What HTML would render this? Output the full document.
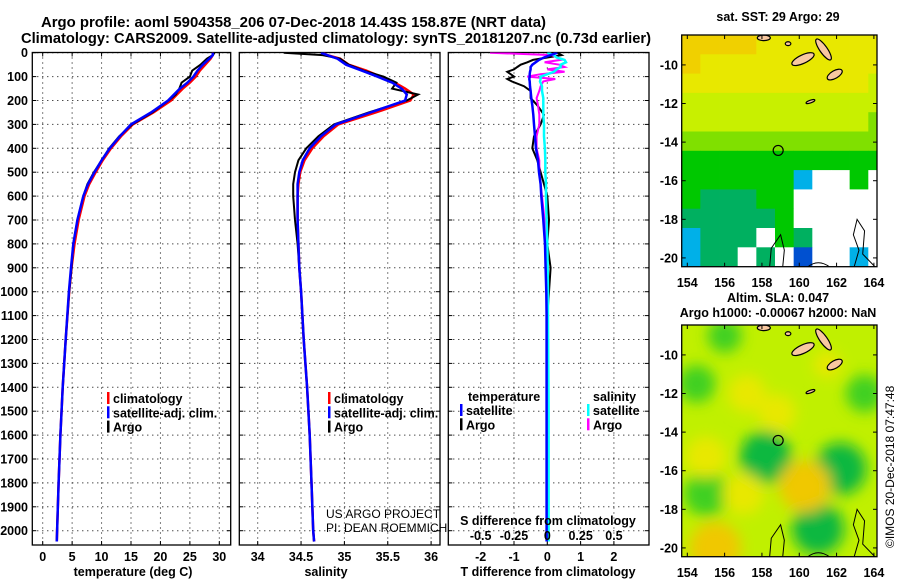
<!DOCTYPE html>
<html><head><meta charset="utf-8"><style>
html,body{margin:0;padding:0;background:#fff}
svg{display:block;font-family:"Liberation Sans",sans-serif}
.b{font-weight:bold}
</style></head><body>
<svg id="s" width="900" height="580" viewBox="0 0 900 580" xmlns="http://www.w3.org/2000/svg">
<defs>
<clipPath id="c1"><rect x="32.3" y="52.5" width="198.4" height="492.5"/></clipPath>
<clipPath id="c2"><rect x="239.3" y="52.5" width="200.7" height="492.5"/></clipPath>
<clipPath id="c3"><rect x="448.3" y="52.5" width="200.7" height="492.5"/></clipPath>
<clipPath id="cm1"><rect x="681.7" y="35" width="195.3" height="231.7"/></clipPath>
<clipPath id="cm2"><rect x="681.7" y="325" width="195.3" height="231.7"/></clipPath>
<filter id="bl" x="-50%" y="-50%" width="200%" height="200%"><feGaussianBlur stdDeviation="7"/></filter>
</defs>
<text class="b" x="41" y="27" font-size="14.5" textLength="505" lengthAdjust="spacingAndGlyphs">Argo profile: aoml 5904358_206 07-Dec-2018 14.43S 158.87E (NRT data)</text>
<text class="b" x="21" y="43" font-size="14.5" textLength="630" lengthAdjust="spacingAndGlyphs">Climatology: CARS2009. Satellite-adjusted climatology: synTS_20181207.nc (0.73d earlier)</text>
<g id="g1"></g>
<g id="g2"></g>
<g id="g3"></g>
<g id="m1"></g>
<g id="m2"></g>
<text x="0" y="0" font-size="12" transform="translate(894,548) rotate(-90)">©IMOS 20-Dec-2018 07:47:48</text>
</svg>
<script>
// ---- profile data ----
const depth = [0,10,25,50,75,100,125,150,175,200,250,300,350,400,450,500,550,600,700,800,900,1000,1200,1400,1600,1800,2000,2045];
const tClim = [29.0,28.9,28.5,27.6,26.7,26.0,25.0,23.8,22.8,21.8,18.8,15.3,13.3,11.6,10.2,9.0,7.9,7.1,6.1,5.4,4.9,4.5,3.9,3.4,3.0,2.7,2.45,2.4];
const tSat  = [28.9,28.9,28.3,27.2,26.3,25.6,24.6,23.3,22.3,21.3,18.4,15.0,13.1,11.4,10.0,8.8,7.7,6.9,5.9,5.2,4.8,4.45,3.9,3.4,3.0,2.7,2.45,2.4];
const tArgo = [29.2,28.9,27.9,26.8,25.4,25.0,23.6,23.2,22.6,21.4,18.6,15.2,13.0,11.3,10.0,8.7,7.6,6.9,5.9,5.2,4.9,4.5,3.9,3.4,3.0,2.7,2.45,2.4];
const sClim = [34.75,34.8,34.95,35.05,35.25,35.42,35.58,35.7,35.8,35.76,35.36,34.93,34.76,34.63,34.54,34.49,34.47,34.46,34.46,34.47,34.48,34.5,34.53,34.57,34.6,34.62,34.64,34.65];
const sSat  = [34.73,34.8,34.92,35.02,35.2,35.38,35.55,35.66,35.72,35.7,35.3,34.9,34.73,34.6,34.52,34.48,34.46,34.46,34.46,34.47,34.48,34.5,34.53,34.57,34.6,34.62,34.64,34.65];
const sArgo = [34.3,34.75,34.95,35.05,35.22,35.45,35.6,35.55,35.85,35.72,35.28,34.88,34.7,34.56,34.47,34.43,34.41,34.41,34.43,34.46,34.48,34.5,34.53,34.57,34.6,34.62,34.64,34.65];
// ---- difference data ----
const dDepth = [0,10,20,30,40,50,60,70,80,90,100,110,120,140,160,190,220,260,300,350,400,450,500,550,600,700,800,900,1000,1100,1500,2045];
const dTArgo = [0.3,0.43,0,-0.43,-0.6,-0.8,-0.9,-1.0,-1.2,-1.1,-1.0,-1.2,-1.07,-0.7,-0.5,-0.5,-0.3,-0.1,-0.2,-0.4,-0.45,-0.3,-0.2,-0.1,0,0.05,0,0.1,0.05,0,0,0];
const dTSat  = [0.3,0.1,-0.1,-0.25,-0.35,-0.45,-0.5,-0.5,-0.52,-0.53,-0.53,-0.54,-0.53,-0.52,-0.5,-0.48,-0.45,-0.42,-0.4,-0.37,-0.34,-0.28,-0.25,-0.2,-0.18,-0.12,-0.07,-0.05,-0.03,-0.02,-0.02,-0.02];
const dSArgo = [-0.43,0.03,0.08,0.1,-0.02,0.09,0.13,0.0,0.13,-0.05,-0.15,0.06,-0.03,-0.05,-0.06,-0.08,-0.07,-0.06,-0.06,-0.08,-0.08,-0.06,-0.06,-0.05,-0.04,-0.02,-0.005,0,0,0,0,0];
const dSSat  = [0.0,0.05,0.07,0.13,0.14,0.1,0.1,0.07,0.05,0.0,-0.05,-0.05,-0.055,-0.04,-0.04,-0.03,-0.03,-0.03,-0.025,-0.025,-0.018,-0.015,-0.015,-0.01,-0.01,-0.005,0,0.003,0.005,0.005,0.01,0.01];
const depthTicks = [0,100,200,300,400,500,600,700,800,900,1000,1100,1200,1300,1400,1500,1600,1700,1800,1900,2000];
const tTicks = [0,5,10,15,20,25,30];
const sTicks = [34,34.5,35,35.5,36];
const sTickLabels = ["34","34.5","35","35.5","36"];
const dTTicks = [-2,-1,0,1,2];
const dSTicks = [-0.5,-0.25,0,0.25,0.5];
const dSTickLabels = ["-0.5","-0.25","0","0.25","0.5"];
const lonTicks = [154,156,158,160,162,164];
const latTicks = [-10,-12,-14,-16,-18,-20];
const floatLon = 158.87, floatLat = -14.43;
// SST map rows (1 deg cells from lat -8.5 southward, lon 153.7 eastward)
const sstRows = ["ooooYYYYYYY","oYYYYYYYYYY","YYYYYYYYYYy","yyyyyyyyyyy","yyyyyyyyyyg","ggggggggggg","GGGGGGGGGGG","GGGGGGcwwGw","GtttGGwwwww","tttttGwwwww","ctttwGtwwww","cttwtwbwwcw"];
// SLA anomaly blobs: lon, lat, level
const slaLon = [158.2,162.2,161.0,155.0,154.5,163.5,160.3,157.2,155.5,158.8,157.0,155.0,156,161.5];
const slaLat = [-15.3,-15.9,-19.0,-17.2,-11.5,-12.0,-16.8,-12.0,-20.0,-13.0,-17.2,-15.3,-9,-10.5];
const slaVal = [-1,-1,-1,-0.8,-0.6,-0.6,1,0.6,1,0.6,0.7,0.7,-0.5,0.3];

const NS="http://www.w3.org/2000/svg";
function mk(p,tag,a){const e=document.createElementNS(NS,tag);for(const k in a)e.setAttribute(k,a[k]);p.appendChild(e);return e;}
const Y = d => 52.7 + d*0.2390;
const xT = v => 42.7 + v*5.887;
const xS = v => 257.7 + (v-34)*86.7;
const xD = v => 547.3 + v*33.3;
const xDS = v => 547.3 + v*133.3;

function frame(g,x0,x1,xt,showDepth){
  const y0=52.5,y1=545;
  depthTicks.forEach(d=>{const y=Y(d);
    const l=mk(g,'line',{x1:x0,x2:x1,y1:y,y2:y,stroke:'#000','stroke-width':1,'stroke-dasharray':'1 4'});
    
    mk(g,'line',{x1:x0,x2:x0+4,y1:y,y2:y,stroke:'#000'});mk(g,'line',{x1:x1-4,x2:x1,y1:y,y2:y,stroke:'#000'});
    if(showDepth){const t=mk(g,'text',{x:28,y:y+4.5,'text-anchor':'end','font-size':12.5,'font-weight':'bold'});t.textContent=d;
      }
  });
  xt.forEach(x=>{mk(g,'line',{x1:x,x2:x,y1:y0,y2:y1,stroke:'#000','stroke-dasharray':'1 4'});
    mk(g,'line',{x1:x,x2:x,y1:y0,y2:y0+4,stroke:'#000'});mk(g,'line',{x1:x,x2:x,y1:y1-4,y2:y1,stroke:'#000'});});
  const r=mk(g,'rect',{x:x0,y:y0,width:x1-x0,height:y1-y0,fill:'none',stroke:'#000','stroke-width':1.3});
  
}
function line(g,xs,ds,fx,col,name,clip,w){
  const p=xs.map((v,i)=>(i?'L':'M')+fx(v).toFixed(1)+','+Y(ds[i]).toFixed(1)).join('');
  const e=mk(g,'path',{d:p,fill:'none',stroke:col,'stroke-width':w||2.5,'clip-path':clip});
  
}
function txt(g,x,y,s,a){const t=mk(g,'text',Object.assign({x:x,y:y,'font-size':12.5,'font-weight':'bold'},a||{}));t.textContent=s;return t;}
function legend(g,x,y,items){items.forEach((it,i)=>{
  mk(g,'rect',{x:x-1,y:y+i*14.3-11,width:2.5,height:12,fill:it[1]});
  const t=txt(g,x+5,y+i*14.3,it[0]);});}

// Panel 1
const g1=document.getElementById('g1');
frame(g1,32.3,230.7,tTicks.map(xT),true);
line(g1,tClim,depth,xT,'#ff0000','climatology-temperature-line','url(#c1)');
line(g1,tArgo,depth,xT,'#000','argo-temperature-line','url(#c1)',2);
line(g1,tSat,depth,xT,'#0000ff','satellite-temperature-line','url(#c1)');
tTicks.forEach(v=>{const t=txt(g1,xT(v),561,v,{'text-anchor':'middle'});});
txt(g1,133,576,'temperature (deg C)',{'text-anchor':'middle'});
legend(g1,108,403,[['climatology','#ff0000'],['satellite-adj. clim.','#0000ff'],['Argo','#000']]);

// Panel 2
const g2=document.getElementById('g2');
frame(g2,239.3,440,sTicks.map(xS),false);
line(g2,sClim,depth,xS,'#ff0000','climatology-salinity-line','url(#c2)');
line(g2,sArgo,depth,xS,'#000','argo-salinity-line','url(#c2)',2);
line(g2,sSat,depth,xS,'#0000ff','satellite-salinity-line','url(#c2)');
sTicks.forEach((v,i)=>{const t=txt(g2,xS(v),561,sTickLabels[i],{'text-anchor':'middle'});});
txt(g2,326,576,'salinity',{'text-anchor':'middle'});
legend(g2,329,403,[['climatology','#ff0000'],['satellite-adj. clim.','#0000ff'],['Argo','#000']]);
txt(g2,326,518,'US ARGO PROJECT',{'font-weight':'normal','font-size':12});
txt(g2,326,532,'PI: DEAN ROEMMICH',{'font-weight':'normal','font-size':12});

// Panel 3
const g3=document.getElementById('g3');
frame(g3,448.3,649,dTTicks.map(xD),false);
line(g3,dTArgo,dDepth,xD,'#000','argo-temperature-difference-line','url(#c3)',2);
line(g3,dSArgo,dDepth,xDS,'#ff00ff','argo-salinity-difference-line','url(#c3)',2);
line(g3,dSSat,dDepth,xDS,'#00ffff','satellite-salinity-difference-line','url(#c3)');
line(g3,dTSat,dDepth,xD,'#0000ff','satellite-temperature-difference-line','url(#c3)');
dTTicks.forEach(v=>{const t=txt(g3,xD(v),561,v,{'text-anchor':'middle'});});
dSTicks.forEach((v,i)=>{const t=txt(g3,xDS(v),540,dSTickLabels[i],{'text-anchor':'middle'});});
txt(g3,548,525,'S difference from climatology',{'text-anchor':'middle'});
txt(g3,548,576,'T difference from climatology',{'text-anchor':'middle'});
txt(g3,468,401,'temperature');
txt(g3,593,401,'salinity');
legend(g3,461,415,[['satellite','#0000ff'],['Argo','#000']]);
legend(g3,588,415,[['satellite','#00ffff'],['Argo','#ff00ff']]);

// Maps
const LX=lo=>681.7+(lo-153.7)*18.66;
function mapAxes(g,top){
  const LY=la=>top+(-8.45-la)*19.3;
  lonTicks.forEach(v=>{const x=LX(v);mk(g,'line',{x1:x,x2:x,y1:top,y2:top+4,stroke:'#000'});mk(g,'line',{x1:x,x2:x,y1:top+231.7-4,y2:top+231.7,stroke:'#000'});
    const t=txt(g,x,top+252,v,{'text-anchor':'middle'});});
  latTicks.forEach(v=>{const y=LY(v);mk(g,'line',{x1:681.7,x2:685.7,y1:y,y2:y,stroke:'#000'});mk(g,'line',{x1:873,x2:877,y1:y,y2:y,stroke:'#000'});
    const t=txt(g,678,y+4.5,v,{'text-anchor':'end'});});
  const r=mk(g,'rect',{x:681.7,y:top,width:195.3,height:231.7,fill:'none',stroke:'#000','stroke-width':1.3});
  
}
function islands(g,LY,clip){
  const gi=mk(g,'g',{'clip-path':clip});
  const sh=[[160.2,-9.7,0.65,0.22,-25],[161.3,-9.2,0.2,0.65,-35],[161.9,-10.5,0.45,0.2,-30],[158.1,-8.6,0.35,0.14,0],[159.4,-8.9,0.15,0.1,0],[160.6,-11.9,0.25,0.07,-20]];
  sh.forEach(s=>mk(gi,'ellipse',{cx:LX(s[0]),cy:LY(s[1]),rx:s[2]*18.66,ry:s[3]*19.3,fill:'#f8c8a0',stroke:'#000','stroke-width':1.2,transform:`rotate(${s[4]} ${LX(s[0])} ${LY(s[1])})`}));
  mk(gi,'path',{d:`M${LX(158.4)},${LY(-20.6)} L${LX(158.5)},${LY(-19.5)} L${LX(159.0)},${LY(-18.8)} L${LX(159.2)},${LY(-19.6)} L${LX(159.1)},${LY(-20.6)}`,fill:'none',stroke:'#000','stroke-width':1});
  mk(gi,'path',{d:`M${LX(162.9)},${LY(-20.6)} L${LX(163.2)},${LY(-19.6)} L${LX(162.9)},${LY(-18.8)} L${LX(163.1)},${LY(-18.0)} L${LX(163.5)},${LY(-18.6)} L${LX(163.4)},${LY(-19.8)} L${LX(164.2)},${LY(-20.6)}`,fill:'none',stroke:'#000','stroke-width':1});
  mk(gi,'path',{d:`M${LX(160.3)},${LY(-20.6)} Q${LX(161)},${LY(-19.9)} ${LX(161.8)},${LY(-20.6)}`,fill:'none',stroke:'#000','stroke-width':1});
}
const cmap={o:'#f0d000',Y:'#e8e800',y:'#c8f000',g:'#80e000',G:'#00c800',t:'#00b060',c:'#00b0e8',b:'#0050d0',w:'#ffffff'};
const m1=document.getElementById('m1');
const LY1=la=>35+(-8.45-la)*19.3;
txt(m1,778,21,'sat. SST: 29 Argo: 29',{'text-anchor':'middle'});
const mg=mk(m1,'g',{'clip-path':'url(#cm1)'});
sstRows.forEach((row,r)=>{for(let c=0;c<row.length;c++){
  const e=mk(mg,'rect',{x:LX(153.7+c),y:LY1(-8.45-r),width:19,height:19.7,fill:cmap[row[c]]});
  }});
islands(m1,LY1,'url(#cm1)');
mapAxes(m1,35);
mk(m1,'circle',{cx:LX(floatLon),cy:LY1(floatLat),r:5,fill:'none',stroke:'#000','stroke-width':1.2});

const m2=document.getElementById('m2');
const LY2=la=>325+(-8.45-la)*19.3;
txt(m2,778,302,'Altim. SLA: 0.047',{'text-anchor':'middle'});
txt(m2,778,317,'Argo h1000: -0.00067 h2000: NaN',{'text-anchor':'middle'});
const mg2=mk(m2,'g',{'clip-path':'url(#cm2)'});
mk(mg2,'rect',{x:681.7,y:325,width:195.3,height:231.7,fill:'#c0f000'});
const bg=mk(mg2,'g',{filter:'url(#bl)'});
slaLon.forEach((lo,i)=>{const v=slaVal[i];
  const col=v<-0.8?'#10b840':v<0?'#40d020':v>0.8?'#f0c800':'#e8e800';
  const e=mk(bg,'circle',{cx:LX(lo),cy:LY2(slaLat[i]),r:Math.abs(v)*18+8,fill:col});
  });
islands(m2,LY2,'url(#cm2)');
mapAxes(m2,325);
mk(m2,'circle',{cx:LX(floatLon),cy:LY2(floatLat),r:5,fill:'none',stroke:'#000','stroke-width':1.2});
</script>
</body></html>
